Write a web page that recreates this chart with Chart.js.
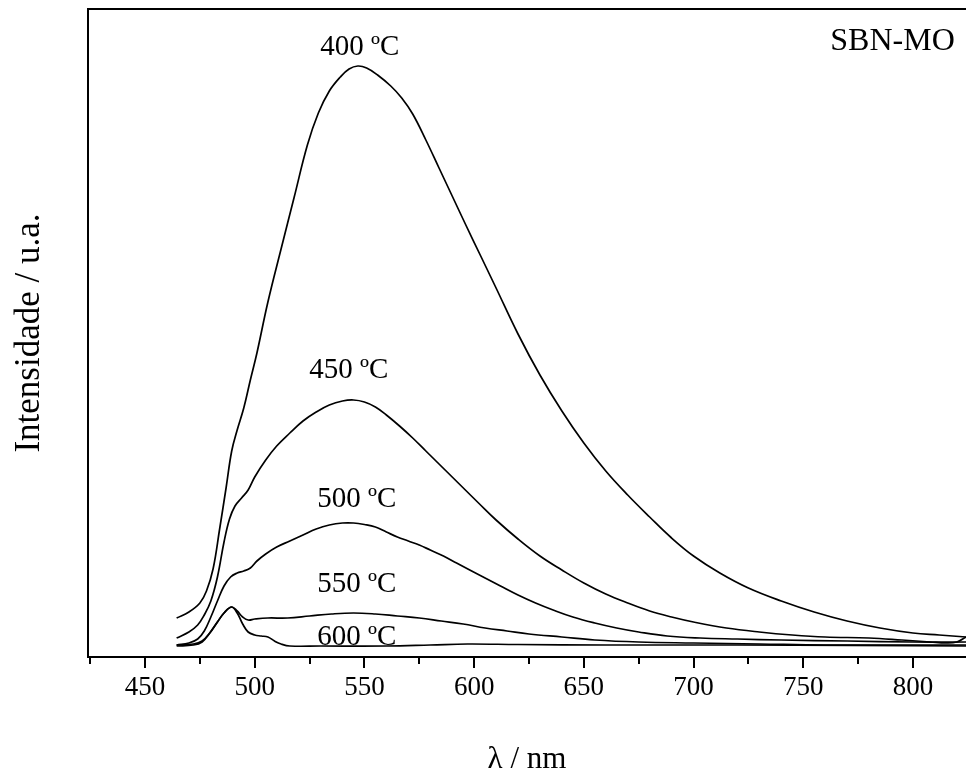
<!DOCTYPE html>
<html><head><meta charset="utf-8">
<script src="https://cdn.jsdelivr.net/npm/chart.js@4/dist/chart.umd.min.js"></script>
<style>html,body{margin:0;padding:0;background:#fff;overflow:hidden}#wrap{width:966px;height:774px;position:relative}</style>
</head><body><div id="wrap"><canvas id="c"></canvas></div>
<script>
// Wavelength (nm) and intensity (a.u.)
const wl400 = [464.4, 470, 475, 478, 481, 484, 487, 489.5, 492, 495, 498, 501, 506, 512, 518, 524, 529, 534, 539, 543, 547, 551, 556, 562, 567, 572, 578, 584, 590, 596, 603, 610, 620, 630, 640, 650, 660, 670, 680, 690, 700, 712, 725, 740, 755, 770, 785, 800, 812, 824.2];
const int400 = [39, 45, 54, 66, 88, 128, 170, 206, 227, 249, 277, 304, 355, 408, 460, 512, 544, 566, 580, 588, 591, 589, 582, 571, 559, 543, 517, 489, 461, 433, 401, 369, 323, 282, 246, 214, 186, 162, 140, 119, 101, 84, 69, 56, 45, 36, 29, 24, 22, 20];

const wl450 = [464.4, 470, 474, 477, 480, 483, 486, 488.5, 491, 494, 497, 500, 505, 510, 516, 522, 528, 534, 540, 545, 550, 555, 560, 566, 572, 578, 584, 590, 596, 602, 610, 620, 630, 640, 650, 660, 670, 680, 690, 700, 715, 730, 745, 760, 780, 795, 808, 815, 820, 824.2];
const int450 = [19, 25, 32, 42, 56, 80, 115, 138, 151, 159, 167, 180, 197, 211, 224, 236, 245, 252, 256, 257, 255, 250, 242, 231, 219, 206, 193, 180, 167, 154, 137, 118, 101, 87, 74, 63, 54, 46, 40, 35, 29, 25, 22, 20, 19, 17, 15, 14, 15, 20];

const wl500 = [464.4, 470, 474, 477, 480, 483, 486, 489, 492, 495, 498, 501, 505, 510, 516, 522, 528, 534, 540, 545, 550, 555, 560, 565, 570, 575, 580, 586, 592, 598, 605, 612, 620, 628, 636, 645, 655, 665, 675, 688, 703, 720, 740, 770, 800, 824.2];
const int500 = [12, 14, 18, 26, 40, 56, 71, 80, 84, 86, 89, 96, 103, 110, 116, 122, 128, 132, 134, 134, 132.5, 130, 125, 120, 116, 112, 107, 101, 94, 87, 79, 71, 62, 54, 47, 40, 34, 29, 25, 21, 19, 18, 17, 16, 15, 15];

const wl550 = [464.4, 472, 476, 479.5, 483, 486, 489.4, 492, 494.5, 497, 500, 506, 515, 525, 535, 545, 555, 565, 575, 585, 595, 605, 615, 625, 640, 655, 675, 700, 730, 760, 824.2];
const int550 = [12, 13, 16, 24, 35, 44, 50, 46, 40, 37, 38, 39, 39, 41, 43, 44, 43, 41, 39, 36, 33, 29, 26, 23, 20, 17, 15, 14, 13, 12, 12];

const wl600 = [464.4, 472, 476, 479.5, 483, 486, 489.4, 492, 494.5, 497, 500, 503, 506, 509, 512, 516, 530, 560, 580, 597, 620, 660, 720, 824.2];
const int600 = [11, 12, 15, 24, 35, 44, 50, 44, 33, 25, 22, 21, 20, 16, 13, 11, 11, 11, 12, 13, 12.5, 12, 12, 11];

const seriesNames = ['400 ºC', '450 ºC', '500 ºC', '550 ºC', '600 ºC'];
const majorTicks = [450, 500, 550, 600, 650, 700, 750, 800];
const minorTicks = [425, 475, 525, 575, 625, 675, 725, 775];
const xTitle = 'λ / nm';
const yTitle = 'Intensidade / u.a.';
const sampleName = 'SBN-MO';

const FONT = "'Liberation Serif', 'Times New Roman', serif";
const toPts = (xs, ys) => xs.map((x, i) => ({x: x, y: ys[i]}));
const allWl = [wl400, wl450, wl500, wl550, wl600];
const allInt = [int400, int450, int500, int550, int600];

const datasets = seriesNames.map((n, i) => ({
  label: n,
  data: toPts(allWl[i], allInt[i]),
  borderColor: '#000',
  borderWidth: 1.7,
  pointRadius: 0,
  fill: false,
  tension: 0.4
}));

// label anchors in data coordinates (nm, a.u.)
const labelAnchors = [
  {text: seriesNames[0], x: 547.9, y: 602, size: 29},
  {text: seriesNames[1], x: 542.9, y: 279, size: 29},
  {text: seriesNames[2], x: 546.5, y: 150, size: 29},
  {text: seriesNames[3], x: 546.5, y: 65, size: 29},
  {text: seriesNames[4], x: 546.5, y: 12, size: 29},
  {text: sampleName, x: 790.7, y: 607, size: 32}
];

const decor = {
  id: 'decor',
  afterDraw(chart) {
    const {ctx, chartArea: a, scales: {x, y}} = chart;
    ctx.save();
    ctx.strokeStyle = '#000';
    ctx.lineWidth = 2;
    ctx.beginPath();
    ctx.moveTo(a.left - 1, a.top);
    ctx.lineTo(a.right + 2, a.top);
    ctx.stroke();
    minorTicks.forEach(v => {
      const px = Math.round(x.getPixelForValue(v));
      if (px < a.left || px > a.right) return;
      ctx.beginPath();
      ctx.moveTo(px, a.bottom);
      ctx.lineTo(px, a.bottom + 7);
      ctx.stroke();
    });
    ctx.fillStyle = '#000';
    ctx.textAlign = 'center';
    ctx.textBaseline = 'alphabetic';
    labelAnchors.forEach(l => {
      ctx.font = l.size + 'px ' + FONT;
      ctx.fillText(l.text, x.getPixelForValue(l.x), y.getPixelForValue(l.y));
    });
    ctx.restore();
  }
};

new Chart(document.getElementById('c'), {
  type: 'line',
  data: {datasets},
  options: {
    responsive: true,
    maintainAspectRatio: false,
    animation: false,
    devicePixelRatio: 1,
    layout: {padding: {top: 9, right: 0, left: 0, bottom: 0}},
    plugins: {legend: {display: false}, tooltip: {enabled: false}},
    scales: {
      x: {
        type: 'linear',
        min: 424,
        max: 824.2,
        afterBuildTicks: s => { s.ticks = majorTicks.map(v => ({value: v})); },
        afterFit: s => { s.height = 117; },
        grid: {display: true, drawOnChartArea: false, drawTicks: true, tickLength: 11, color: '#000', lineWidth: 2},
        border: {display: true, color: '#000', width: 2},
        ticks: {color: '#000', font: {family: FONT, size: 27}, padding: 4, maxRotation: 0, autoSkip: false},
        title: {display: true, text: xTitle, color: '#000', font: {family: FONT, size: 31}, padding: {top: 0, bottom: -4}}
      },
      y: {
        type: 'linear',
        min: 0,
        max: 648,
        afterFit: s => { s.width = 88; },
        grid: {display: false},
        border: {display: true, color: '#000', width: 2},
        ticks: {display: false},
        title: {display: true, text: yTitle, color: '#000', font: {family: FONT, size: 35}, padding: {top: 9, bottom: 0}}
      }
    }
  },
  plugins: [decor]
});
</script>
</body></html>
